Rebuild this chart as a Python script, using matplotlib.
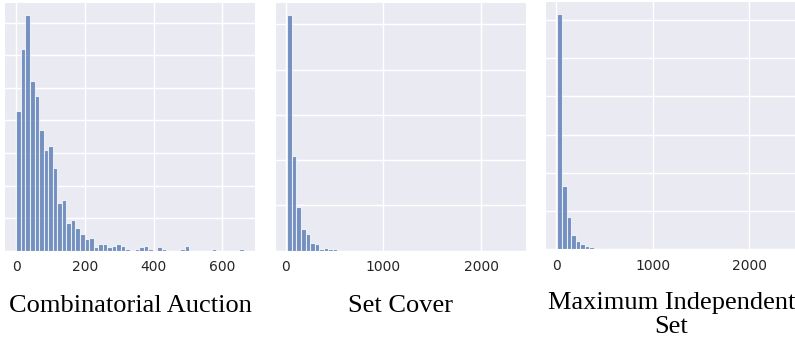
import numpy as np
import matplotlib
matplotlib.use("Agg")
import matplotlib.pyplot as plt
from matplotlib.ticker import MultipleLocator, NullFormatter

# histogram counts per bin (50 bins each)
ca_counts = [86, 124, 145, 104, 95, 74, 62, 64, 51, 29,
             31, 17, 19, 14, 10, 7, 8, 2, 4, 4,
             2, 3, 4, 3, 1, 0, 1, 2, 3, 1,
             0, 2, 1, 0, 0, 0, 1, 3, 0, 0,
             0, 0, 0, 1, 0, 0, 0, 0, 0, 1]
ca_range = (0, 662)

sc_counts = [522, 210, 96, 47, 38, 17, 15, 4, 5, 4,
             3, 2, 1, 1, 1, 0, 1, 1, 0, 1,
             0, 0, 0, 0, 0, 0, 0, 0, 0, 1,
             0, 0, 0, 0, 0, 0, 0, 0, 0, 0,
             0, 0, 0, 0, 0, 0, 0, 0, 0, 1]
sc_range = (17, 2344)

mis_counts = [616, 166, 84, 37, 21, 13, 8, 5, 4, 3,
              3, 2, 1, 0, 1, 1, 0, 0, 0, 0,
              0, 0, 1, 0, 0, 1, 0, 0, 0, 0,
              0, 0, 0, 0, 0, 0, 0, 0, 1, 0,
              0, 0, 0, 0, 0, 0, 0, 0, 0, 1]
mis_range = (10, 2380)

titles = ["Combinatorial Auction", "Set Cover", "Maximum Independent\nSet"]
xticks = [[0, 200, 400, 600], [0, 1000, 2000], [0, 1000, 2000]]
ygrid_step = [20, 100, 100]

plt.rcParams["font.family"] = "DejaVu Sans"

fig = plt.figure(figsize=(7.95, 3.39), dpi=100)
W, H = 795, 339
# axes boxes in pixels: left, top, right, bottom
boxes = [(5, 2.7, 255, 250.7), (276, 2.7, 526, 250.7), (546, 2.0, 797, 249.3)]
# title position: centre x, baseline of the last line
title_pos = [(130, 311.7), (401, 311.7), (671.5, 333.0)]

data = [(ca_counts, ca_range), (sc_counts, sc_range), (mis_counts, mis_range)]

for i, (counts, rng) in enumerate(data):
    l, t, r, b = boxes[i]
    ax = fig.add_axes([l / W, (H - b) / H, (r - l) / W, (b - t) / H])
    edges = np.linspace(rng[0], rng[1], len(counts) + 1)
    centers = (edges[:-1] + edges[1:]) / 2
    ax.hist(centers, bins=edges, weights=counts, color="#4C72B0", alpha=0.75,
            edgecolor="white", linewidth=0.8)
    ax.set_facecolor("#EAEAF2")
    ax.set_axisbelow(True)
    ax.grid(True, color="white", linewidth=1.0)
    for s in ax.spines.values():
        s.set_visible(False)
    ax.set_xticks(xticks[i])
    ax.yaxis.set_major_locator(MultipleLocator(ygrid_step[i]))
    ax.yaxis.set_major_formatter(NullFormatter())
    ax.tick_params(axis="both", length=0, pad=7, labelsize=10, labelcolor="#262626")
    x, y = title_pos[i]
    fig.text(x / W, (H - y) / H, titles[i], ha="center", va="baseline",
             family="Liberation Serif", size=19, color="black", linespacing=1.1)

fig.savefig("out.png", dpi=100)
